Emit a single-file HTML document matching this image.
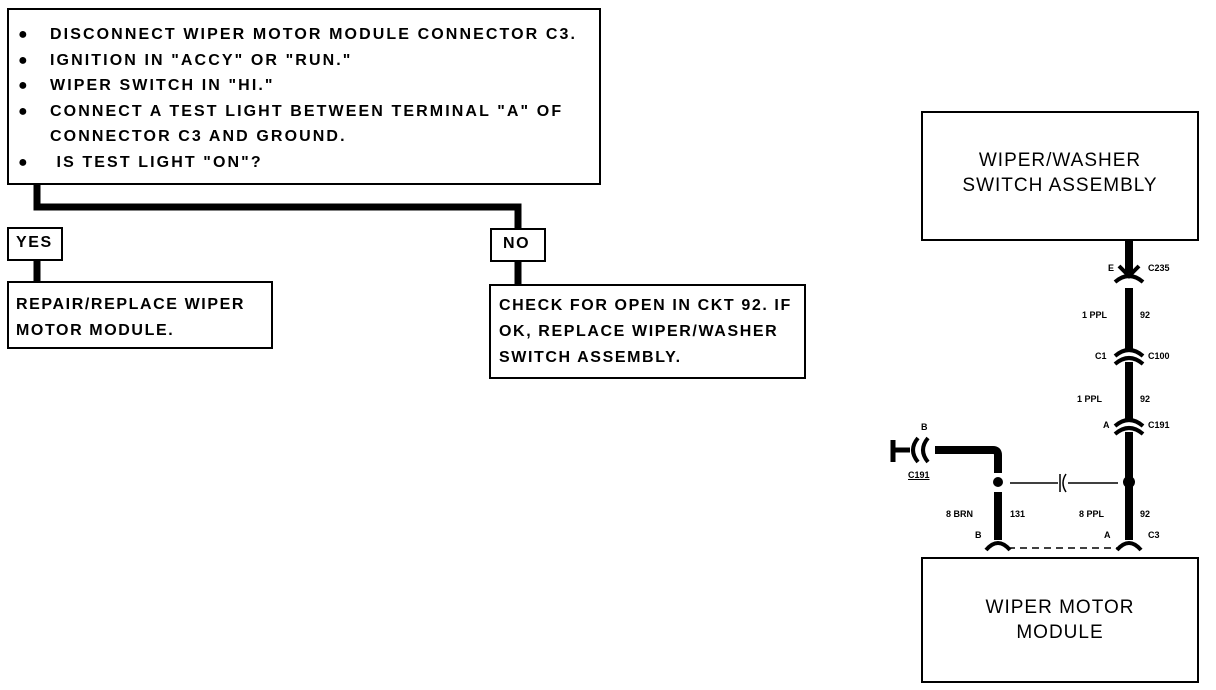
<!DOCTYPE html>
<html><head><style>
body{margin:0;background:#fff;width:1216px;height:690px;position:relative;overflow:hidden;font-family:"Liberation Sans",sans-serif;font-weight:bold;color:#000}
.b{position:absolute;border:2px solid #000;box-sizing:border-box}
.t{position:absolute;font-size:16px;letter-spacing:1.6px;white-space:nowrap}
.s{position:absolute;font-size:9px;white-space:nowrap}
.bl{position:absolute;left:18px;font-size:16px}
</style></head><body>
<svg width="1216" height="690" style="position:absolute;left:0;top:0">
<g stroke="#000" fill="none">
<path d="M37 184V207H518V230" stroke-width="7"/>
<path d="M37 260V282" stroke-width="7"/>
<path d="M518 262V285" stroke-width="7"/>
<path d="M1129 240V273" stroke-width="8"/>
<path d="M1129 288V350M1129 362V420M1129 432V540" stroke-width="8"/>
<path d="M1115 282q14-12 28 0M1115 356q14-12 28 0M1115 364q14-12 28 0M1115 426q14-12 28 0M1115 434q14-12 28 0" stroke-width="4"/>
<path d="M1119 266l10 10 10-10" stroke-width="4"/>
<path d="M998 492V540" stroke-width="8"/>
<path d="M998 473V455Q998 450 993 450H935" stroke-width="8"/>
<path d="M928 438q-10 12 0 24M918 438q-10 12 0 24" stroke-width="4"/>
<path d="M910 450H895M893 440V462" stroke-width="5"/>
<path d="M986 550q12-14 24 0M1117 550q12-14 24 0" stroke-width="4"/>
<path d="M1010 483H1058M1068 483H1118" stroke-width="1.5"/>
<path d="M1060 474V492M1066 474q-6 9 0 18" stroke-width="1.5"/>
<path d="M1008 548H1117" stroke-width="1.5" stroke-dasharray="7,5"/>
</g>
<circle cx="998" cy="482" r="5"/><circle cx="1129" cy="482" r="6"/>
</svg>
<div class="b" style="left:7px;top:8px;width:594px;height:177px"></div>
<div class="bl" style="top:22px;line-height:25.5px">●<br>●<br>●<br>●<br><br>●</div>
<div class="t" style="left:50px;top:22px;line-height:25.5px;letter-spacing:2.1px">DISCONNECT WIPER MOTOR MODULE CONNECTOR C3.<br>IGNITION IN "ACCY" OR "RUN."<br>WIPER SWITCH IN "HI."<br>CONNECT A TEST LIGHT BETWEEN TERMINAL "A" OF<br>CONNECTOR C3 AND GROUND.<br>&nbsp;IS TEST LIGHT "ON"?</div>
<div class="b" style="left:7px;top:227px;width:56px;height:34px"></div>
<div class="t" style="left:16px;top:234px">YES</div>
<div class="b" style="left:7px;top:281px;width:266px;height:68px"></div>
<div class="t" style="left:16px;top:292px;line-height:26px">REPAIR/REPLACE WIPER<br>MOTOR MODULE.</div>
<div class="b" style="left:490px;top:228px;width:56px;height:34px"></div>
<div class="t" style="left:503px;top:235px">NO</div>
<div class="b" style="left:489px;top:284px;width:317px;height:95px"></div>
<div class="t" style="left:499px;top:293px;line-height:26px">CHECK FOR OPEN IN CKT 92. IF<br>OK, REPLACE WIPER/WASHER<br>SWITCH ASSEMBLY.</div>
<div class="b" style="left:921px;top:111px;width:278px;height:130px"></div>
<div class="t" style="left:921px;top:148px;width:278px;text-align:center;font-size:19px;letter-spacing:1px;font-weight:normal;line-height:25px">WIPER/WASHER<br>SWITCH ASSEMBLY</div>
<div class="b" style="left:921px;top:557px;width:278px;height:126px"></div>
<div class="t" style="left:921px;top:595px;width:278px;text-align:center;font-size:19px;letter-spacing:1px;font-weight:normal;line-height:25px">WIPER MOTOR<br>MODULE</div>
<div class="s" style="left:1108px;top:263px">E</div><div class="s" style="left:1148px;top:263px">C235</div>
<div class="s" style="left:1082px;top:310px">1 PPL</div><div class="s" style="left:1140px;top:310px">92</div>
<div class="s" style="left:1095px;top:351px">C1</div><div class="s" style="left:1148px;top:351px">C100</div>
<div class="s" style="left:1077px;top:394px">1 PPL</div><div class="s" style="left:1140px;top:394px">92</div>
<div class="s" style="left:1103px;top:420px">A</div><div class="s" style="left:1148px;top:420px">C191</div>
<div class="s" style="left:921px;top:422px">B</div><div class="s" style="left:908px;top:470px;text-decoration:underline">C191</div>
<div class="s" style="left:946px;top:509px">8 BRN</div><div class="s" style="left:1010px;top:509px">131</div>
<div class="s" style="left:1079px;top:509px">8 PPL</div><div class="s" style="left:1140px;top:509px">92</div>
<div class="s" style="left:975px;top:530px">B</div><div class="s" style="left:1104px;top:530px">A</div><div class="s" style="left:1148px;top:530px">C3</div>
</body></html>
